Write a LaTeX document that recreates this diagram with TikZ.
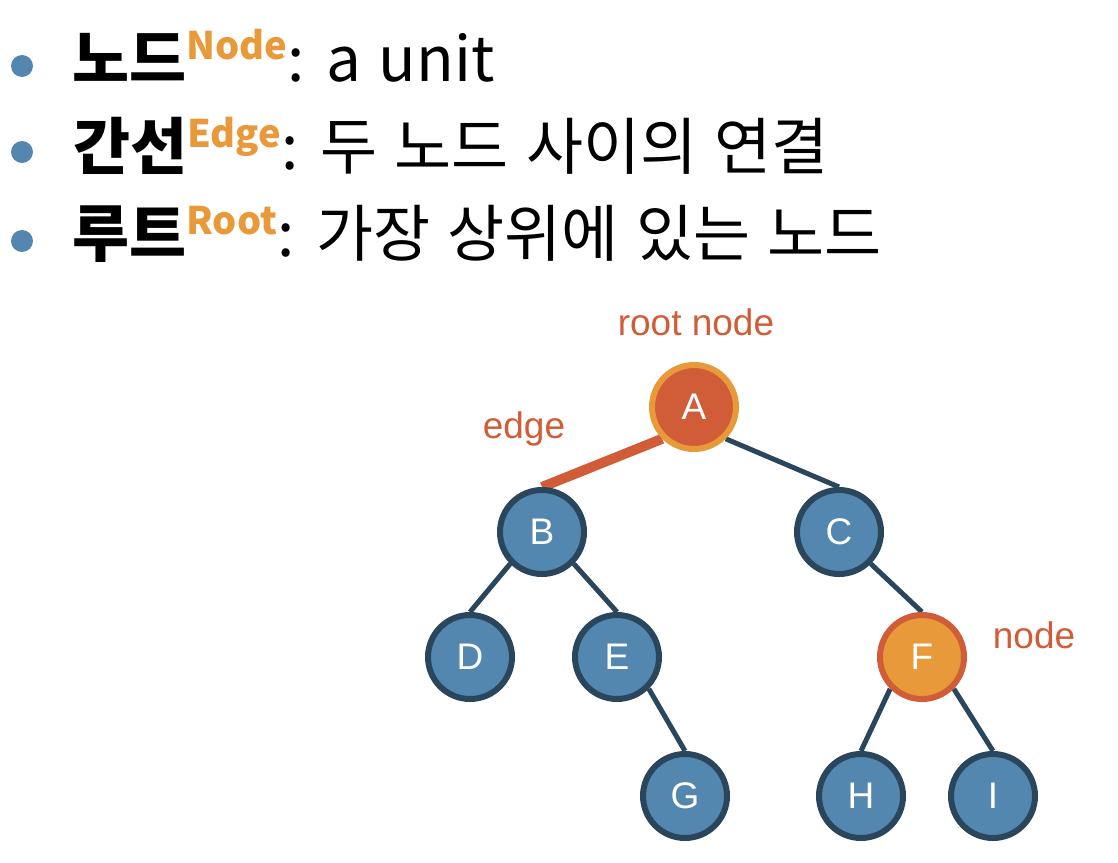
\documentclass[tikz,border=0pt]{standalone}
\usepackage{fontspec}
\setmainfont{Noto Sans CJK KR}[WordSpace=1.25]
\newfontfamily\treefont{Liberation Sans}
\usetikzlibrary{positioning, backgrounds}
\definecolor{nodeblue}{HTML}{5387AF}
\definecolor{navy}{HTML}{2A465C}
\definecolor{rust}{HTML}{D05D37}
\definecolor{amber}{HTML}{E89A3A}
\newcommand{\supword}[1]{\raisebox{11pt}{\fontsize{19}{19}\selectfont\bfseries\color{amber}#1}}

\begin{document}
\begin{tikzpicture}[x=0.5pt, y=-0.5pt,
  vertex/.style={shape=circle, minimum size=42pt, inner sep=0pt, line width=3pt, draw=navy, fill=nodeblue, text=white, font=\treefont\fontsize{18.5}{20}\selectfont},
  tedge/.style={line width=2.5pt, draw=navy},
  note/.style={anchor=base, text=rust, font=\treefont\fontsize{18.5}{20}\selectfont},
  dot/.style={shape=circle, minimum size=11pt, inner sep=0pt, fill=nodeblue},
  entry/.style={anchor=base west, inner sep=0pt, font=\fontsize{31}{33}\selectfont}]
\useasboundingbox (0,0) rectangle (1118,862);
%bullet list
\node[dot] (b1) at (22,66) {};
\node[dot] (b2) at (22,152) {};
\node[dot] (b3) at (22,241) {};
\node[entry] (t1) at (72,81) {\textbf{노드}\supword{Node}: a unit};
\node[entry] (t2) at (73,169) {\textbf{간선}\supword{Edge}: 두 노드 사이의 연결};
\node[entry] (t3) at (72,256) {\textbf{루트}\supword{Root}: 가장 상위에 있는 노드};
%tree
\node[vertex, fill=rust, draw=amber] (A) at (694,407) {A};
\node[vertex] (B) at (542,532) {B};
\node[vertex] (C) at (839,532) {C};
\node[vertex] (D) at (470,657) {D};
\node[vertex] (E) at (617,657) {E};
\node[vertex, fill=amber, draw=rust] (F) at (922,657) {F};
\node[vertex] (G) at (685,796) {G};
\node[vertex] (H) at (861,796) {H};
\node[vertex] (I) at (993,796) {I};
\begin{scope}[on background layer]
\draw[line width=5pt, draw=rust] (A.south west) -- (B.north);
\draw[tedge] (A.south east) -- (C.north);
\draw[tedge] (B.south west) -- (D.north);
\draw[tedge] (B.south east) -- (E.north);
\draw[tedge] (E.south east) -- (G.north);
\draw[tedge] (C.south east) -- (F.north);
\draw[tedge] (F.south west) -- (H.north);
\draw[tedge] (F.south east) -- (I.north);
\end{scope}
%labels
\node[note] (rootlbl) at (696,335) {root node};
\node[note] (edgelbl) at (524,438) {edge};
\node[note] (nodelbl) at (1034,648) {node};
\end{tikzpicture}
\end{document}
